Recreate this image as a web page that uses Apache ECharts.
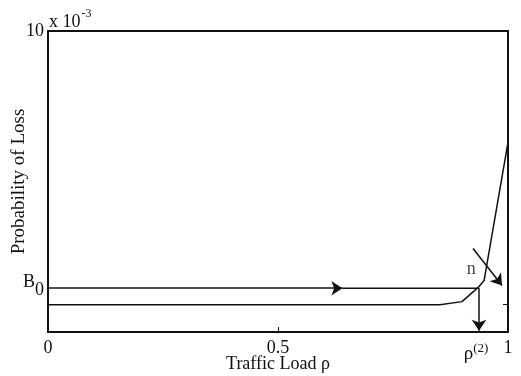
<!DOCTYPE html>
<html>
<head>
<meta charset="utf-8">
<script src="https://cdn.jsdelivr.net/npm/echarts@6/dist/echarts.min.js"></script>
<style>html,body{margin:0;padding:0;background:#fff;}#c{width:521px;height:376px;}</style>
</head>
<body>
<div id="c"></div>
<script>
// Data (y in units of 10^-3)
const lossCurveX = [0, 0.852, 0.900, 0.937, 0.948, 1.0];
const lossCurveY = [0, 0, 0.11, 0.66, 0.88, 5.93];
const B0 = 0.6;
const rho2 = 0.937;
const b0LineX = [0, 0.64, rho2];
const nArrow = [[0.924, 2.05], [0.987, 0.70]];
const nLabelPos = [0.92, 1.28];
const xTickValues = [0, 0.5, 1];
const yLabelValues = [0, B0, 10];

const F = 'Liberation Serif';
const chart = echarts.init(document.getElementById('c'));
const col = '#111';
chart.setOption({
  animation: false,
  grid: {left: 48, right: 13, top: 31, bottom: 44, containLabel: false, outerBoundsMode: 'none'},
  xAxis: [{
    type: 'value', min: 0, max: 1, interval: 0.5,
    name: 'Traffic Load ρ', nameLocation: 'middle', nameGap: 23, nameMoveOverlap: false,
    nameTextStyle: {fontFamily: F, fontSize: 18, color: col},
    axisLine: {show: true, onZero: false, lineStyle: {color: col, width: 2}},
    axisTick: {show: true, inside: true, length: 5, customValues: xTickValues, lineStyle: {color: col}},
    splitLine: {show: false},
    axisLabel: {
      customValues: [0, 0.5, rho2, 1], margin: 7,
      fontFamily: F, fontSize: 18, color: col,
      formatter: function (v) {
        if (Math.abs(v - rho2) < 1e-6) return '{r|ρ}{s|(2)}';
        if (v === 0) return '0';
        if (Math.abs(v - 0.5) < 1e-6) return '0.5';
        if (Math.abs(v - 1) < 1e-6) return '1';
        return '';
      },
      rich: {
        r: {fontFamily: F, fontSize: 19, color: col, padding: [6, 0, 0, 0]},
        s: {fontFamily: F, fontSize: 13, color: col, padding: [0, 6, 6, 0]}
      }
    }
  }, {
    type: 'value', min: 0, max: 1, position: 'top',
    axisLine: {show: true, onZero: false, lineStyle: {color: col, width: 2}},
    axisTick: {show: false}, axisLabel: {show: false}, splitLine: {show: false}
  }],
  yAxis: [{
    type: 'value', min: -1, max: 10, interval: 0.2,
    name: 'Probability of Loss', nameLocation: 'middle', nameGap: 19, nameMoveOverlap: false,
    nameTextStyle: {fontFamily: F, fontSize: 19, color: col},
    axisLine: {show: true, onZero: false, lineStyle: {color: col, width: 2}},
    axisTick: {show: true, inside: true, length: 5, customValues: [0, 10], lineStyle: {color: col}},
    splitLine: {show: false},
    axisLabel: {
      customValues: yLabelValues, margin: 4,
      fontFamily: F, fontSize: 18, color: col,
      formatter: function (v) {
        if (Math.abs(v - B0) < 1e-6) return '{b|B}{sub|0}';
        if (v === 0) return '0';
        if (Math.abs(v - 10) < 1e-6) return '10';
        return '';
      },
      rich: {
        b: {fontFamily: F, fontSize: 18, color: col, padding: [0, 0, 12, 0]},
        sub: {fontFamily: F, fontSize: 18, color: col, padding: [4, 0, 0, 0]}
      }
    }
  }, {
    type: 'value', min: -1, max: 10, interval: 0.2, position: 'right',
    axisLine: {show: true, onZero: false, lineStyle: {color: col, width: 2}},
    axisTick: {show: true, inside: true, length: 5, customValues: [0], lineStyle: {color: col}},
    axisLabel: {show: false}, splitLine: {show: false}
  }],
  graphic: [{
    type: 'text', left: 49, top: 8,
    style: {
      text: '{a|x 10}{e|-3}',
      rich: {
        a: {fontFamily: F, fontSize: 18, fill: col, padding: [8, 0, 0, 0]},
        e: {fontFamily: F, fontSize: 12, fill: col, padding: [0, 0, 8, 1]}
      }
    }
  }],
  series: [
    {
      type: 'line', data: lossCurveX.map((x, i) => [x, lossCurveY[i]]),
      symbol: 'none', lineStyle: {color: col, width: 1.5}, silent: true
    },
    {
      type: 'line', data: [[b0LineX[1], B0], [b0LineX[2], B0]],
      symbol: 'none', lineStyle: {color: col, width: 1.5}, silent: true
    },
    {
      type: 'lines', coordinateSystem: 'cartesian2d',
      symbol: ['none', 'arrow'], symbolSize: 11,
      lineStyle: {color: col, width: 1.5, opacity: 1},
      silent: true,
      data: [
        {coords: [[b0LineX[0], B0], [b0LineX[1], B0]]},
        {coords: [[rho2, B0], [rho2, -0.95]]},
        {coords: nArrow}
      ]
    },
    {
      type: 'scatter', data: [nLabelPos], symbolSize: 0, silent: true,
      label: {show: true, position: 'inside', formatter: 'n', fontFamily: F, fontSize: 18, color: col}
    }
  ]
});
</script>
</body>
</html>
